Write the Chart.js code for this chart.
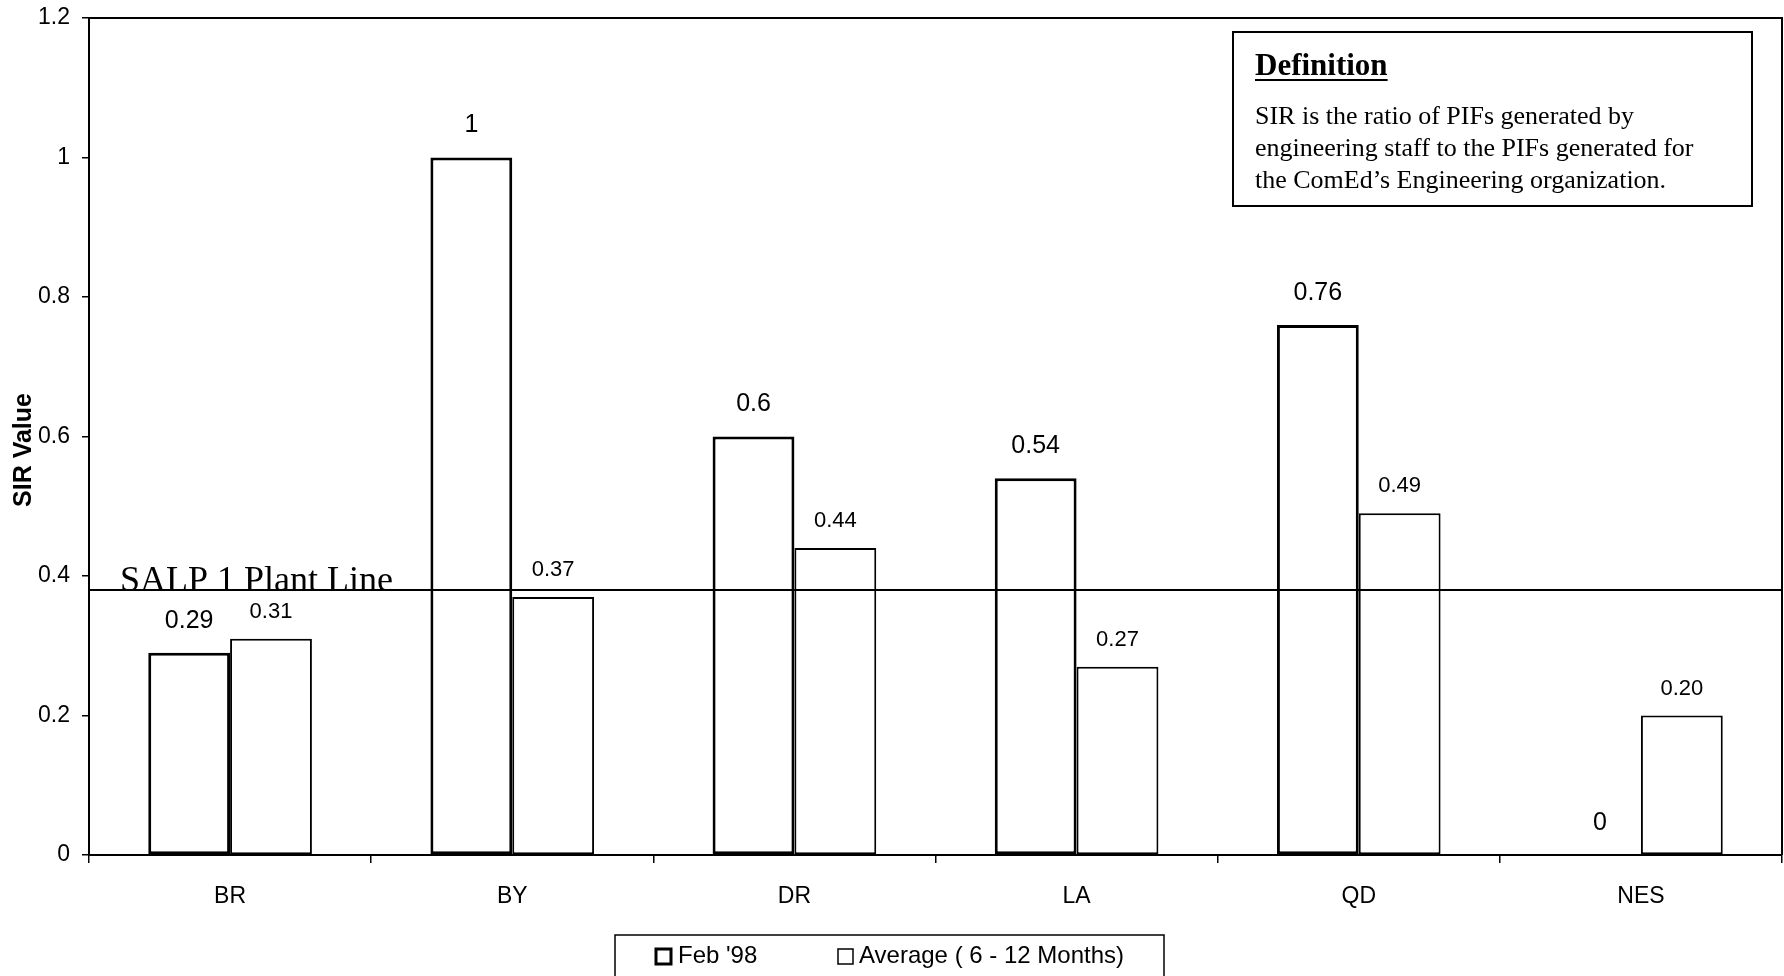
<!DOCTYPE html>
<html>
<head>
<meta charset="utf-8">
<script src="https://cdn.jsdelivr.net/npm/chart.js@4/dist/chart.umd.min.js"></script>
<style>
  html, body { margin: 0; padding: 0; background: #fff; }
  #wrap { width: 1784px; height: 976px; position: relative; }
</style>
</head>
<body>
<div id="wrap"><canvas id="myChart" width="1784" height="976"></canvas></div>
<script>
// plants on the x axis
const plants = ['BR', 'BY', 'DR', 'LA', 'QD', 'NES'];
// SIR values
const febValues = [0.29, 1, 0.6, 0.54, 0.76, 0];
const avgValues = [0.31, 0.37, 0.44, 0.27, 0.49, 0.20];
const febLabels = ['0.29', '1', '0.6', '0.54', '0.76', '0'];
const avgLabels = ['0.31', '0.37', '0.44', '0.27', '0.49', '0.20'];
const yTicks = [0, 0.2, 0.4, 0.6, 0.8, 1, 1.2];
const salpLevel = 0.38;
const seriesNames = ["Feb '98", 'Average ( 6 - 12 Months)'];
const defTitle = 'Definition';
const defLines = ['SIR is the ratio of PIFs generated by',
                  'engineering staff to the PIFs generated for',
                  'the ComEd\u2019s Engineering organization.'];

const sans = '"Liberation Sans", Arial, sans-serif';
const serif = '"Liberation Serif", "Times New Roman", serif';

// frame, SALP line, value labels, definition box, legend
const extras = {
  id: 'extras',
  afterDatasetsDraw(chart) {
    const ctx = chart.ctx;
    const a = chart.chartArea;
    const y = chart.scales.y;
    ctx.save();

    // top + right frame
    ctx.strokeStyle = '#000';
    ctx.lineWidth = 2;
    ctx.beginPath();
    ctx.moveTo(a.left, a.top);
    ctx.lineTo(a.right, a.top);
    ctx.lineTo(a.right, a.bottom);
    ctx.stroke();

    // SALP 1 line
    const ly = y.getPixelForValue(salpLevel);
    ctx.lineWidth = 2;
    ctx.beginPath();
    ctx.moveTo(a.left, ly);
    ctx.lineTo(a.right, ly);
    ctx.stroke();
    ctx.fillStyle = '#000';
    ctx.font = '36px ' + serif;
    ctx.textAlign = 'left';
    ctx.textBaseline = 'alphabetic';
    ctx.fillText('SALP 1 Plant Line', 120, ly + 1);

    // value labels
    ctx.textAlign = 'center';
    ctx.textBaseline = 'middle';
    const m0 = chart.getDatasetMeta(0);
    const m1 = chart.getDatasetMeta(1);
    ctx.font = '25px ' + sans;
    m0.data.forEach((bar, i) => {
      ctx.fillText(febLabels[i], bar.x, bar.y - 32);
    });
    ctx.font = '22px ' + sans;
    m1.data.forEach((bar, i) => {
      ctx.fillText(avgLabels[i], bar.x, bar.y - 27);
    });

    // y axis title
    ctx.save();
    ctx.translate(24, 450);
    ctx.rotate(-Math.PI / 2);
    ctx.font = 'bold 25px ' + sans;
    ctx.fillText('SIR Value', 0, 0);
    ctx.restore();

    // definition box
    ctx.fillStyle = '#fff';
    ctx.fillRect(1233, 32, 519, 174);
    ctx.strokeStyle = '#000';
    ctx.lineWidth = 2;
    ctx.strokeRect(1233, 32, 519, 174);
    ctx.fillStyle = '#000';
    ctx.textAlign = 'left';
    ctx.textBaseline = 'alphabetic';
    ctx.font = 'bold 31px ' + serif;
    ctx.fillText(defTitle, 1255, 75);
    const tw = ctx.measureText(defTitle).width;
    ctx.fillRect(1255, 79, tw, 2);
    ctx.font = '26px ' + serif;
    defLines.forEach((t, i) => ctx.fillText(t, 1255, 124 + i * 32));

    // legend box
    ctx.lineWidth = 1.5;
    ctx.strokeRect(615, 935, 549, 45);
    ctx.font = '24px ' + sans;
    ctx.textBaseline = 'middle';
    ctx.lineWidth = 3;
    ctx.strokeRect(656, 949, 15, 15);
    ctx.fillText(seriesNames[0], 678, 956);
    ctx.lineWidth = 1.5;
    ctx.strokeRect(838, 949, 15, 15);
    ctx.fillText(seriesNames[1], 859, 956);

    ctx.restore();
  }
};

const ctx = document.getElementById('myChart');
const chart = new Chart(ctx, {
  type: 'bar',
  data: {
    labels: plants,
    datasets: [{
      label: seriesNames[0],
      data: febValues,
      backgroundColor: '#fff',
      borderColor: '#000',
      borderWidth: 3,
      borderSkipped: false,
      categoryPercentage: 0.58,
      barPercentage: 1.0
    }, {
      label: seriesNames[1],
      data: avgValues,
      backgroundColor: '#fff',
      borderColor: '#000',
      borderWidth: 2,
      borderSkipped: false,
      categoryPercentage: 0.58,
      barPercentage: 1.0
    }]
  },
  options: {
    responsive: false,
    animation: false,
    layout: { padding: { top: 18, right: 2, bottom: 61, left: 0 } },
    plugins: {
      legend: { display: false },
      tooltip: { enabled: false }
    },
    scales: {
      x: {
        offset: true,
        grid: { display: true, drawOnChartArea: false, offset: true, color: '#000', tickLength: 8, lineWidth: 1.5 },
        border: { display: true, color: '#000', width: 2 },
        ticks: { color: '#000', font: { family: sans, size: 23 }, padding: 20 },
        afterFit(s) { s.height = 60; }
      },
      y: {
        min: 0,
        max: 1.2,
        afterBuildTicks(s) { s.ticks = yTicks.map(v => ({ value: v })); },
        grid: { display: true, drawOnChartArea: false, color: '#000', tickLength: 7, lineWidth: 1.5 },
        border: { display: true, color: '#000', width: 2 },
        ticks: {
          color: '#000',
          font: { family: sans, size: 23 },
          padding: 12,
          callback: v => String(Math.round(v * 10) / 10)
        },
        afterFit(s) { s.width = 89; s.paddingTop = 0; s.paddingBottom = 0; }
      }
    }
  },
  plugins: [extras]
});
</script>
</body>
</html>
